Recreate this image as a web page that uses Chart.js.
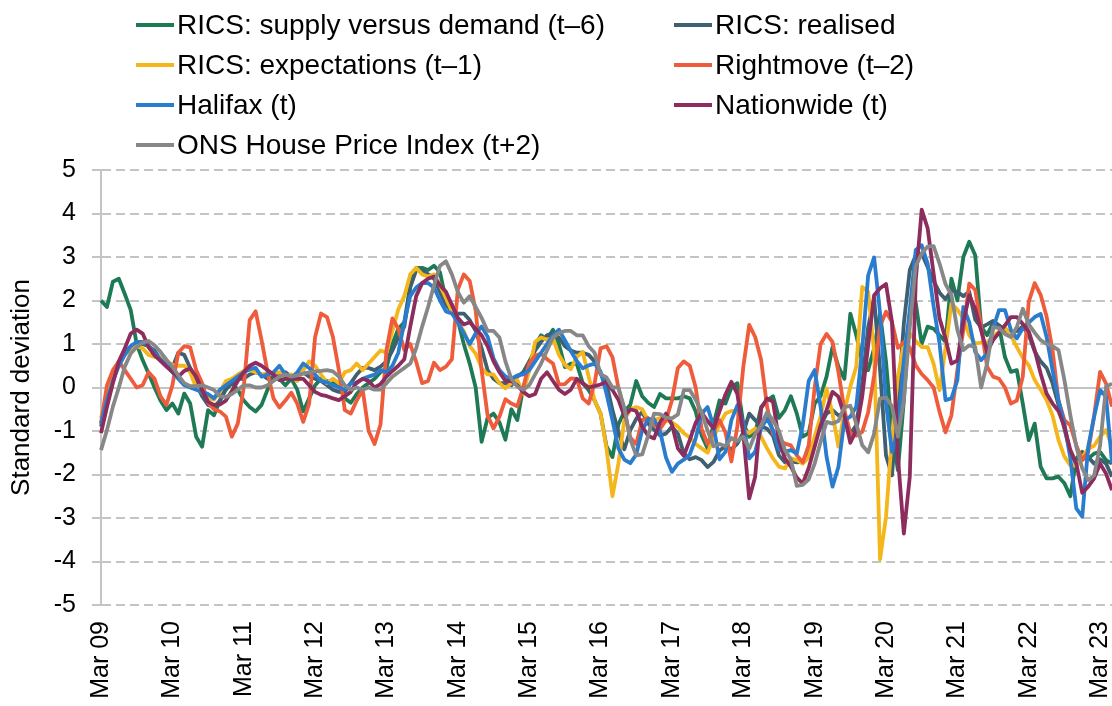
<!DOCTYPE html>
<html>
<head>
<meta charset="utf-8">
<script src="https://cdn.jsdelivr.net/npm/chart.js"></script>
<style>
  html, body { margin: 0; padding: 0; background: #fff; }
</style>
</head>
<body>
<canvas id="myChart" width="1112" height="706"></canvas>
<script>
// monthly categories, Mar 09 to May 23
const monthNames = ['Jan', 'Feb', 'Mar', 'Apr', 'May', 'Jun', 'Jul', 'Aug', 'Sep', 'Oct', 'Nov', 'Dec'];
const categories = [];
for (let k = 0; k < 171; k++) {
    const m = (2 + k) % 12;
    const yr = 9 + Math.floor((2 + k) / 12);
    categories.push(monthNames[m] + ' ' + String(yr).padStart(2, '0'));
}

// series values (standard deviations)
const ricsSupply = [
    2.0, 1.85, 2.43, 2.5, 2.15, 1.78, 1.0, 0.63, 0.32, 0.0, -0.3, -0.52, -0.37, -0.6, -0.14, -0.37, -1.13, -1.36, -0.52, -0.64, -0.3,
    -0.05, 0.1, -0.05, -0.3, -0.45, -0.55, -0.4, -0.05, 0.25, 0.2, 0.05, 0.2, -0.05, -0.55, -0.25, 0.05, 0.2, 0.15, 0.1, 0.05, -0.25,
    -0.35, -0.15, 0.0, 0.1, 0.2, 0.35, 0.45, 1.0, 1.35, 1.5, 2.35, 2.75, 2.75, 2.7, 2.8, 2.65, 2.0, 1.9, 1.55, 1.0, 0.55,
    0.0, -1.25, -0.7, -0.6, -0.8, -1.2, -0.5, -0.75, 0.0, 0.4, 0.97, 1.2, 1.1, 1.33, 1.0, 0.47, 0.55, 0.55, 0.1, -0.06, -0.3,
    -0.6, -1.35, -1.6, -0.85, -0.55, -0.4, 0.15, -0.2, -0.35, -0.45, -0.15, -0.25, -0.25, -0.25, -0.2, -0.25, -0.55, -1.1, -1.4, -0.85, -0.3,
    -0.37, 0.0, 0.1, -0.83, -1.13, -1.05, -0.45, -0.3, -0.2, -0.7, -0.52, -0.2, -0.6, -1.13, -1.05, -0.37, -0.2, 0.25, 0.93, 0.48, 0.2,
    1.7, 1.2, 0.6, 0.4, 0.9, 1.7, 0.6, -1.0, -1.9, -0.3, 1.7, 1.95, 1.0, 1.4, 1.35, 1.2, 1.05, 2.5, 2.0, 3.0, 3.35,
    3.04, 1.4, 1.2, 1.49, 1.41, 0.7, 0.36, 0.4, -0.37, -1.21, -0.83, -1.82, -2.09, -2.09, -2.05, -2.2, -2.5, -1.63, -1.48, -1.63, -1.52, -1.48, -1.67, -1.75
];
const ricsRealised = [
    -0.9, -0.3, 0.2, 0.55, 0.8, 0.95, 1.0, 1.0, 0.95, 0.85, 0.65, 0.5, 0.45, 0.8, 0.75, 0.45, 0.1, -0.2, -0.4, -0.45, -0.3,
    0.0, 0.1, 0.2, 0.2, 0.3, 0.35, 0.3, 0.2, 0.25, 0.3, 0.35, 0.25, 0.3, 0.35, 0.25, 0.2, 0.15, 0.05, -0.05, -0.1, -0.1,
    0.1, 0.3, 0.45, 0.45, 0.4, 0.48, 0.6, 0.85, 1.15, 1.4, 2.3, 2.7, 2.7, 2.6, 2.5, 2.2, 1.9, 1.75, 1.7, 1.7, 1.55,
    1.3, 0.9, 0.4, 0.2, 0.1, 0.1, 0.05, 0.25, 0.35, 0.6, 0.85, 1.05, 1.2, 1.25, 1.15, 0.95, 0.85, 0.8, 0.8, 0.75, 0.6,
    0.31, 0.09, -0.52, -1.02, -1.42, -0.98, -0.72, -0.56, -0.83, -0.97, -1.1, -1.06, -0.9, -1.06, -1.52, -1.65, -1.6, -1.67, -1.83, -1.71, -1.45,
    -1.35, -1.42, -1.29, -1.04, -0.6, -0.75, -0.89, -0.95, -1.11, -1.56, -1.72, -1.7, -1.72, -1.71, -1.48, -1.23, -0.87, -0.6, -0.52, -0.64, -0.6,
    -1.06, -0.87, 0.09, 1.39, 2.05, 0.4, -1.56, -2.02, -0.37, 1.47, 2.7, 3.04, 3.08, 2.77, 2.45, 2.18, 2.03, 2.23, 2.2, 2.1, 2.2,
    1.56, 1.38, 1.45, 1.53, 1.43, 1.32, 1.26, 1.3, 1.4, 1.21, 0.83, 0.6, 0.45, 0.1, -0.4, -0.95, -1.5, -1.75, -1.65, -1.6, -1.75, -1.65, -1.75, -2.05
];
const ricsExpect = [
    -0.7, -0.15, 0.25, 0.55, 0.75, 0.88, 0.95, 0.9, 0.75, 0.7, 0.7, 0.6, 0.52, 0.5, 0.5, 0.35, 0.0, -0.1, -0.25, -0.28, -0.1,
    0.15, 0.2, 0.3, 0.38, 0.4, 0.35, 0.3, 0.32, 0.33, 0.35, 0.25, 0.3, 0.15, 0.4, 0.6, 0.5, 0.3, 0.1, 0.2, 0.1, 0.35,
    0.4, 0.55, 0.4, 0.55, 0.7, 0.85, 0.8, 1.3, 1.8, 2.1, 2.6, 2.75, 2.6, 2.55, 2.6, 2.35, 2.05, 1.75, 1.5, 1.3, 0.95,
    0.78, 0.45, 0.3, 0.3, 0.1, -0.02, 0.1, 0.17, -0.15, 0.4, 1.05, 1.15, 1.1, 1.13, 0.75, 0.52, 0.42, 0.7, 0.82, 0.25, -0.3,
    -0.6, -1.4, -2.5, -1.75, -0.75, -0.5, -0.45, -0.5, -0.75, -0.75, -0.7, -0.75, -0.8, -0.9, -1.05, -1.15, -1.3, -1.4, -1.5, -1.15, -0.85,
    -0.6, -0.54, -0.56, -0.98, -1.05, -0.94, -1.13, -1.4, -1.63, -1.82, -1.86, -1.63, -1.67, -1.75, -1.6, -1.13, -0.67, -0.02, -0.6, -1.36, -0.55,
    0.02, 0.48, 2.31, 2.2, 0.82, -3.95, -2.97, -1.13, 0.25, 1.01, 1.24, 1.07, 0.93, 0.93, 0.55, -0.06, 0.9, 1.93, 1.79, 1.59, 1.2,
    1.01, 1.03, 1.03, 1.19, 1.28, 1.38, 1.2, 0.93, 0.68, 0.51, 0.17, -0.05, -0.29, -0.64, -1.21, -1.59, -1.79, -1.8, -1.61, -1.4, -1.34, -1.13, -0.98, -1.36
];
const rightmove = [
    -0.83, 0.05, 0.4, 0.6, 0.4, 0.2, 0.0, 0.05, 0.35, 0.2, -0.2, -0.4, 0.05, 0.8, 0.95, 0.92, 0.4, 0.1, -0.35, -0.5, -0.55,
    -0.67, -1.13, -0.83, 0.0, 1.55, 1.75, 1.09, 0.36, -0.25, -0.46, -0.3, -0.12, -0.37, -0.79, -0.37, 1.16, 1.7, 1.62, 1.16, 0.4, -0.52,
    -0.6, -0.3, -0.05, -1.0, -1.3, -0.85, 0.86, 1.59, 1.35, 0.86, 1.0, 0.59, 0.1, 0.15, 0.57, 0.4, 0.48, 0.65, 2.25, 2.6, 2.45,
    1.77, 0.4, -0.64, -0.94, -0.67, -0.27, -0.37, -0.43, 0.0, 0.55, 0.73, 0.78, 0.65, 0.55, 0.07, 0.08, 0.21, 0.2, -0.25, -0.37, 0.1,
    0.9, 0.95, 0.7, 0.0, -0.55, -1.15, -1.3, -0.75, -0.7, -0.85, -0.95, -0.75, -0.3, 0.45, 0.6, 0.5, 0.0, -0.95, -1.3, -1.0, -0.75,
    -1.03, -1.7, -0.9, 0.47, 1.44, 1.16, 0.63, -0.44, -1.06, -1.2, -1.29, -1.33, -1.56, -1.72, -1.33, 0.0, 1.0, 1.23, 1.05, 0.36, -0.52,
    -1.06, -1.11, -1.02, -0.57, 0.27, 1.41, 1.74, 1.51, 0.91, 1.04, 0.92, 0.51, 0.31, 0.17, 0.0, -0.56, -1.03, -0.64, 0.4, 1.32, 2.39,
    2.24, 1.39, 0.48, 0.25, 0.2, 0.0, -0.37, -0.3, 0.25, 1.97, 2.4, 2.13, 1.63, 0.86, -0.3, -0.75, -0.87, -1.33, -1.67, -1.48, -0.64, 0.36, 0.09, -0.44
];
const halifax = [
    -0.83, -0.3, 0.15, 0.5, 0.75, 0.95, 1.05, 1.05, 0.95, 0.8, 0.65, 0.52, 0.35, 0.2, 0.05, 0.0, -0.05, -0.1, -0.15, -0.25, -0.05,
    0.05, 0.15, 0.25, 0.35, 0.42, 0.45, 0.25, 0.3, 0.35, 0.5, 0.3, 0.22, 0.35, 0.55, 0.45, 0.3, 0.15, 0.12, 0.05, 0.0, -0.05,
    0.1, 0.1, 0.2, 0.25, 0.3, 0.4, 0.35, 0.5, 0.8, 1.5, 2.1, 2.3, 2.4, 2.4, 2.3, 2.0, 1.75, 1.7, 1.5, 1.25, 1.0,
    1.24, 1.4, 1.17, 0.67, 0.4, 0.25, 0.2, 0.28, 0.3, 0.4, 0.6, 0.8, 1.0, 1.2, 1.33, 1.09, 0.84, 0.61, 0.44, 0.51, 0.55,
    0.37, -0.14, -0.75, -1.4, -1.66, -1.74, -1.54, -0.98, -0.73, -0.73, -1.0, -1.61, -1.94, -1.75, -1.66, -1.54, -1.17, -0.6, -0.45, -0.9, -1.65,
    -1.48, -0.75, -0.41, -0.83, -1.63, -1.48, -0.94, -0.71, -0.98, -1.43, -1.48, -1.44, -1.52, -0.87, 0.15, 0.4, -0.44, -1.59, -2.28, -1.82, -0.75,
    -0.67, -0.44, 0.9, 2.58, 2.99, 1.71, -0.37, -1.48, -1.02, 0.63, 1.78, 3.16, 3.27, 2.85, 1.87, 1.01, -0.29, -0.25, 0.17, 1.85, 1.5,
    0.82, 0.63, 0.78, 1.35, 1.78, 1.78, 1.32, 1.13, 1.36, 1.49, 1.62, 1.69, 1.16, 0.4, -0.29, -0.83, -1.63, -2.78, -2.97, -1.36, -0.67, -0.06, -0.21, -1.74
];
const nationwide = [
    -1.05, -0.45, 0.1, 0.6, 0.9, 1.24, 1.33, 1.24, 0.93, 0.74, 0.61, 0.48, 0.36, 0.25, 0.38, 0.44, 0.25, -0.06, -0.33, -0.4, -0.39,
    -0.3, -0.08, 0.15, 0.35, 0.5, 0.57, 0.5, 0.4, 0.3, 0.17, 0.2, 0.2, 0.2, 0.2, 0.05, -0.1, -0.17, -0.2, -0.25, -0.29, -0.2,
    -0.1, 0.12, 0.2, 0.15, 0.0, 0.08, 0.25, 0.38, 0.5, 0.65, 1.4, 2.1, 2.4, 2.5, 2.55, 2.35, 2.2, 1.9, 1.6, 1.45, 1.5,
    1.35, 1.2, 0.95, 0.6, 0.35, 0.15, 0.15, 0.05, -0.1, -0.2, -0.15, 0.2, 0.35, 0.15, -0.05, -0.15, -0.05, 0.2, 0.1, 0.0, 0.03,
    0.07, 0.13, -0.06, -0.28, -0.66, -0.5, -0.54, -0.9, -1.11, -1.17, -0.8, -0.6, -0.85, -1.4, -1.57, -1.21, -0.81, -0.58, -0.77, -0.94, -0.55,
    -0.16, 0.13, -0.15, -1.06, -2.55, -2.05, -0.48, -0.25, -0.33, -1.21, -1.63, -1.82, -2.07, -2.21, -1.85, -1.36, -0.87, -0.52, -0.1, -0.21, -0.65,
    -1.27, -0.98, -0.21, 0.97, 2.12, 2.28, 2.38, 1.51, -1.59, -3.36, -2.05, 2.47, 4.09, 3.66, 2.62, 1.59, 1.13, 0.55, 0.62, 1.51, 2.12,
    1.81, 1.31, 0.82, 1.09, 1.26, 1.43, 1.62, 1.62, 1.46, 1.29, 0.86, 0.32, -0.14, -0.37, -0.54, -0.9, -1.44, -1.75, -2.42, -2.28, -2.09, -1.75, -1.98, -2.36
];
const onsHpi = [
    -1.44, -0.98, -0.44, 0.0, 0.48, 0.78, 0.93, 1.03, 1.07, 0.97, 0.82, 0.64, 0.48, 0.28, 0.1, 0.03, 0.03, 0.05, 0.0, -0.06, -0.2,
    -0.22, -0.15, -0.05, 0.05, 0.05, 0.0, 0.0, 0.05, 0.15, 0.25, 0.3, 0.25, 0.28, 0.32, 0.35, 0.37, 0.38, 0.4, 0.37, 0.25, 0.05,
    -0.05, 0.0, -0.05, 0.0, -0.05, -0.05, 0.1, 0.25, 0.35, 0.45, 0.55, 0.9, 1.4, 1.85, 2.35, 2.8, 2.9, 2.6, 2.2, 1.95, 2.1,
    1.85, 1.6, 1.3, 1.3, 1.15, 0.6, 0.2, 0.02, -0.05, 0.05, 0.3, 0.55, 0.85, 1.15, 1.25, 1.3, 1.3, 1.2, 1.2, 0.95, 0.8,
    0.31, 0.23, 0.0, 0.0, -0.47, -1.19, -1.56, -1.54, -1.11, -0.6, -0.61, -0.69, -0.71, -0.62, -0.06, -0.06, -0.28, -0.57, -0.99, -1.35, -1.3,
    -1.35, -1.16, -1.23, -1.13, -1.41, -1.07, -0.87, -0.57, -0.75, -1.0, -1.44, -1.65, -2.26, -2.24, -2.11, -1.75, -1.25, -0.79, -0.83, -0.77, -0.45,
    -0.42, -0.83, -1.33, -1.49, -1.06, -0.25, -0.23, -0.43, -1.13, -0.29, 1.39, 2.79, 3.08, 3.24, 3.25, 2.85, 2.38, 2.13, 1.32, 0.86, 0.97,
    0.93, 0.0, 0.55, 1.39, 1.37, 1.23, 1.16, 1.39, 1.81, 1.45, 1.26, 1.09, 1.0, 0.95, 0.86, 0.17, -0.64, -1.36, -1.86, -2.13, -2.02, -1.33, 0.02, 0.09
];

const seriesNames = [
    'RICS: supply versus demand (t\u20136)', 'RICS: realised',
    'RICS: expectations (t\u20131)', 'Rightmove (t\u20132)',
    'Halifax (t)', 'Nationwide (t)',
    'ONS House Price Index (t+2)'
];
const seriesData = [ricsSupply, ricsRealised, ricsExpect, rightmove, halifax, nationwide, onsHpi];
const seriesColors = ['#1e7a55', '#3e6070', '#f4b61a', '#ee5c3c', '#2a7ccf', '#8c2d5e', '#878787'];

const fontFamily = '"Liberation Sans", Arial, sans-serif';

// legend drawn in two columns like the original
const legendSlots = [[136, 25], [674, 25], [136, 65], [674, 65], [136, 105], [674, 105], [136, 145]];
const excelLegend = {
    id: 'excelLegend',
    afterDraw(chart) {
        const c = chart.ctx;
        c.save();
        c.font = '28px ' + fontFamily;
        c.textBaseline = 'middle';
        c.lineWidth = 4;
        chart.data.datasets.forEach((ds, k) => {
            const [lx, ly] = legendSlots[k];
            c.strokeStyle = ds.borderColor;
            c.beginPath();
            c.moveTo(lx, ly);
            c.lineTo(lx + 38, ly);
            c.stroke();
            c.fillStyle = '#000';
            c.fillText(ds.label, lx + 41, ly + 1);
        });
        c.restore();
    }
};

const ctx = document.getElementById('myChart').getContext('2d');
new Chart(ctx, {
    type: 'line',
    data: {
        labels: categories,
        datasets: seriesData.map((d, k) => ({
            label: seriesNames[k],
            data: d,
            borderColor: seriesColors[k],
            backgroundColor: seriesColors[k],
            borderWidth: 3.8,
            pointRadius: 0,
            tension: 0,
            fill: false,
            borderJoinStyle: 'round',
            order: 7 - k
        }))
    },
    options: {
        responsive: false,
        animation: false,
        devicePixelRatio: 1,
        layout: { padding: { top: 170, right: 0, bottom: 0, left: 0 } },
        plugins: {
            legend: { display: false },
            tooltip: { enabled: false }
        },
        scales: {
            x: {
                grid: { display: false, drawTicks: false },
                border: { display: false },
                ticks: {
                    autoSkip: false,
                    minRotation: 90,
                    maxRotation: 90,
                    padding: 16,
                    color: '#000',
                    font: { size: 25, family: fontFamily },
                    callback: (v, i) => (i % 12 === 0 ? categories[i] : null)
                },
                afterFit: s => {
                    s.height = 101;
                    s.paddingLeft = 0;
                    s.paddingRight = 0;
                }
            },
            y: {
                min: -5,
                max: 5,
                ticks: {
                    stepSize: 1,
                    padding: 16,
                    color: '#000',
                    font: { size: 25, family: fontFamily }
                },
                grid: {
                    color: '#c4c4c4',
                    lineWidth: 2,
                    drawTicks: true,
                    tickLength: 9,
                    tickColor: '#c4c4c4',
                    tickWidth: 2
                },
                border: {
                    display: true,
                    color: '#c4c4c4',
                    width: 2,
                    dash: c => (c.tick && c.tick.value !== 0 ? [9, 5] : [])
                },
                title: {
                    display: true,
                    text: 'Standard deviation',
                    color: '#000',
                    font: { size: 26, family: fontFamily },
                    padding: { top: 6, bottom: 0 }
                },
                afterFit: s => { s.width = 101; }
            }
        }
    },
    plugins: [excelLegend]
});
</script>
</body>
</html>
